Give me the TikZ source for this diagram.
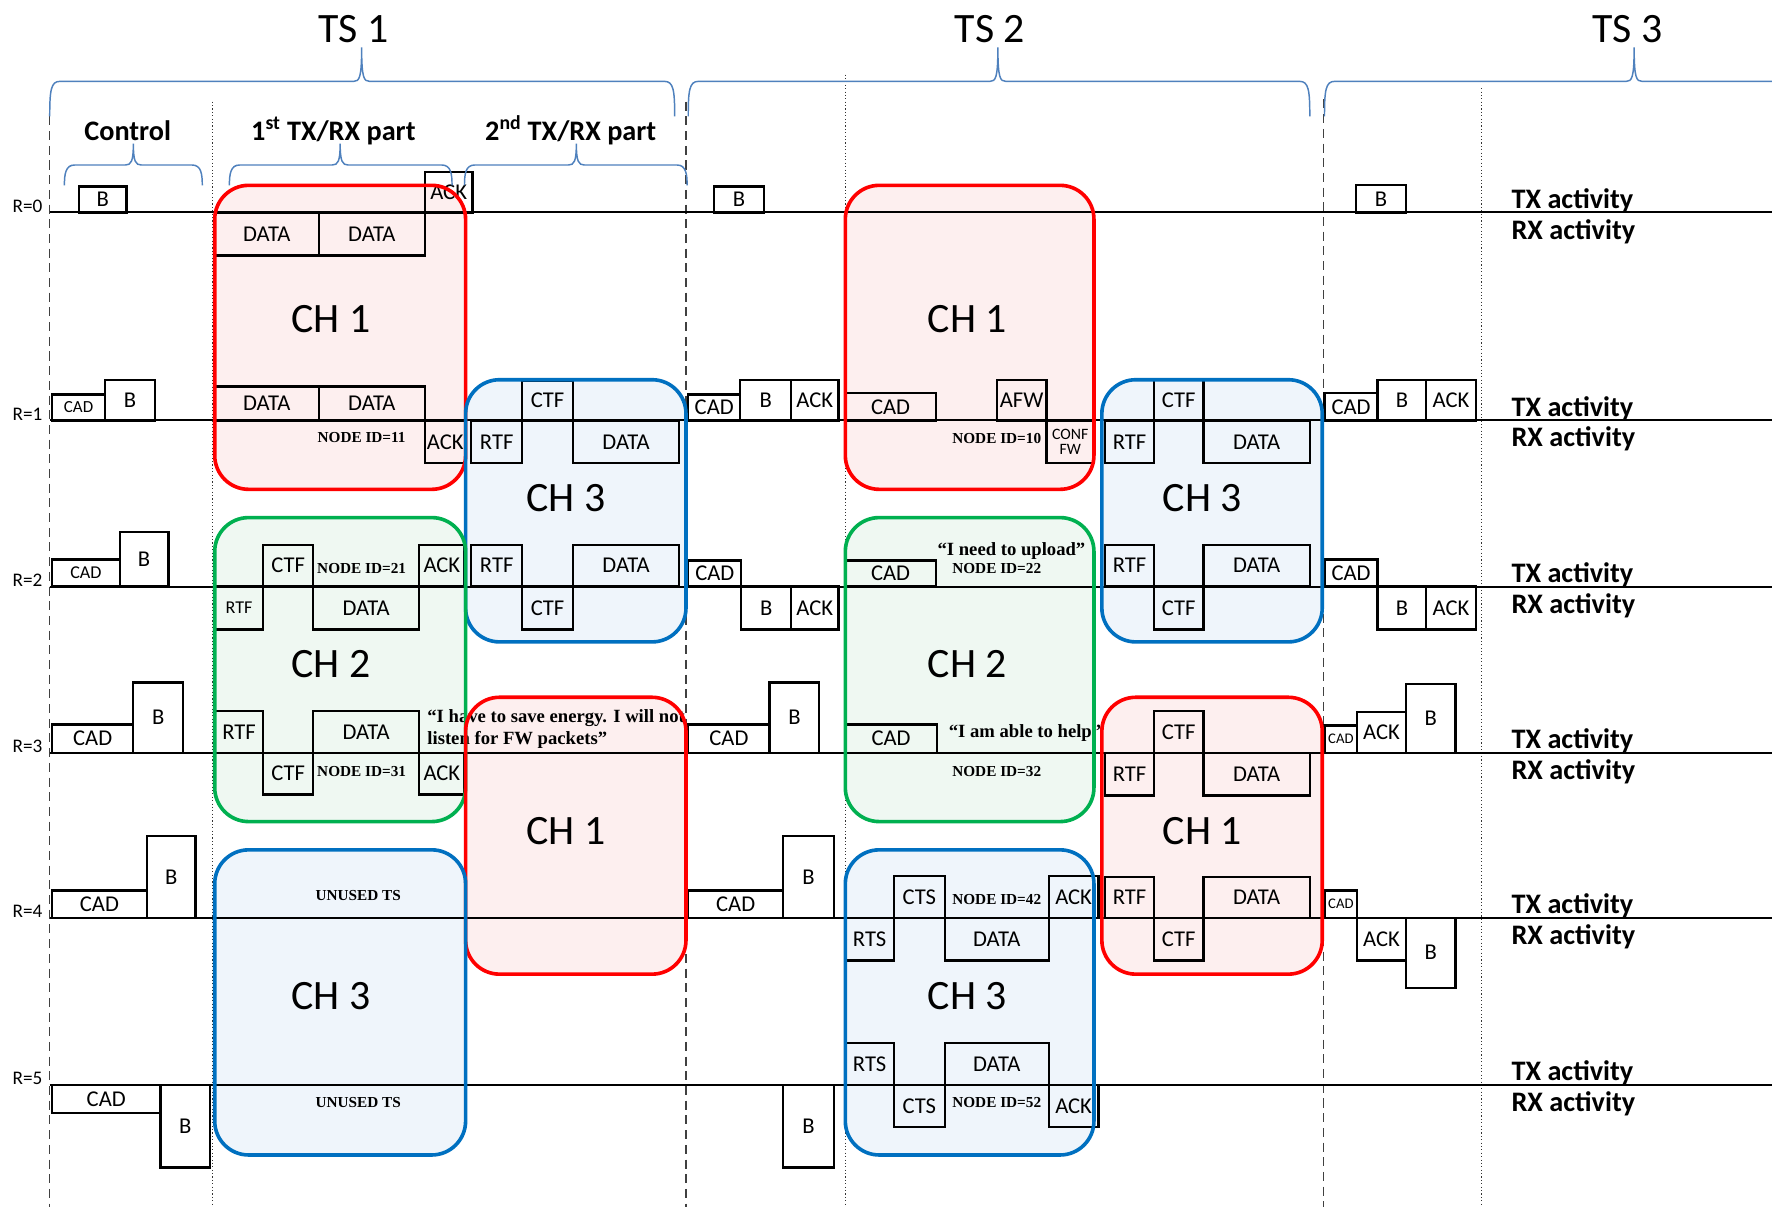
\documentclass[tikz,border=0pt]{standalone}
\usepackage{fontspec}
\setmainfont{Carlito}
\newfontfamily\tnr{Liberation Serif}
\newcommand\myfs[1]{\fontsize{#1}{#1}\selectfont}
\definecolor{bracec}{RGB}{79,129,189}
\definecolor{chred}{RGB}{255,0,0}
\definecolor{chredfill}{RGB}{253,239,239}
\definecolor{chgreen}{RGB}{0,176,80}
\definecolor{chgreenfill}{RGB}{239,248,242}
\definecolor{chblue}{RGB}{0,112,192}
\definecolor{chbluefill}{RGB}{239,245,251}
\newcommand\pk[7]{%
  \pgfmathsetmacro\pkw{#4-#2}%
  \pgfmathsetmacro\pkh{#5-#3}%
  \pgfmathsetmacro\pkx{(#2+#4)/2}%
  \pgfmathsetmacro\pky{(#3+#5)/2}%
  \node[pkt,minimum width=\pkw pt,minimum height=\pkh pt,font=\myfs{#6}] (#1) at (\pkx,\pky) {#7};}
\newcommand\chb[6]{%
  \pgfmathsetmacro\pkw{#4-#2}%
  \pgfmathsetmacro\pkh{#5-#3}%
  \pgfmathsetmacro\pkx{(#2+#4)/2}%
  \pgfmathsetmacro\pky{(#3+#5)/2}%
  \node[chf,fill=#6fill,minimum width=\pkw pt,minimum height=\pkh pt] (#1) at (\pkx,\pky) {};}
\newcommand\chs[2]{\draw[chstroke,#2] (#1.north west) rectangle (#1.south east);}
\newcommand\brc[6]{\draw[brace] (#1,#6) .. controls (#1,#4+8) and (#1+1,#4) .. (#1+9,#4) -- (#3-7,#4) .. controls (#3-2,#4) and (#3,#4-3) .. (#3,#5) .. controls (#3,#4-3) and (#3+2,#4) .. (#3+7,#4) -- (#2-9,#4) .. controls (#2-1,#4) and (#2,#4+8) .. (#2,#6);}
\begin{document}
\begin{tikzpicture}[x=1pt,y=-1pt,
  pkt/.style={draw=black,line width=2pt,inner sep=0pt,outer sep=0pt,align=center},
  chf/.style={inner sep=0pt,outer sep=0pt,rounded corners=30pt},
  chstroke/.style={line width=3.2pt,rounded corners=30pt},
  axisline/.style={line width=1.8pt},
  tsdash/.style={line width=1.2pt,dash pattern=on 8pt off 5pt,black!75},
  tsdot/.style={line width=1pt,dotted,black!80},
  brace/.style={line width=1.3pt,bracec},
  chlab/.style={font=\myfs{37}},
  nid/.style={font=\tnr\bfseries\myfs{13.5}},
  quo/.style={font=\tnr\bfseries\myfs{16.5}},
  rlab/.style={anchor=base east,font=\myfs{17}},
  act/.style={anchor=base west,font=\bfseries\myfs{25}},
  part/.style={anchor=base,font=\bfseries\myfs{25}},
  tslab/.style={anchor=base,font=\myfs{37}}]
\useasboundingbox[fill=white] (0,0) rectangle (1568,1068);
% channel fills
\chb{c1a}{190}{164}{412}{433}{chred}
\chb{c3a}{412}{336}{607}{568}{chblue}
\chb{c2a}{190}{458}{412}{727}{chgreen}
\chb{c1b}{412}{617}{607}{862}{chred}
\chb{c3b}{190}{752}{412}{1022}{chblue}
\chb{c1c}{748}{164}{968}{433}{chred}
\chb{c3c}{975}{336}{1170}{568}{chblue}
\chb{c2b}{748}{458}{968}{727}{chgreen}
\chb{c1d}{975}{617}{1170}{862}{chred}
\chb{c3d}{748}{752}{968}{1022}{chblue}
% vertical separators
\draw[tsdash] (44,90) -- (44,1068);
\draw[tsdash] (607,90) -- (607,1068);
\draw[tsdash] (1171,88) -- (1171,1068);
\draw[tsdot] (188,90) -- (188,1068);
\draw[tsdot] (748,66) -- (748,1068);
\draw[tsdot] (1311,78) -- (1311,1068);
% axis lines
\foreach \yy in {188,372,519,666,812,960}{\draw[axisline] (44,\yy) -- (1568,\yy);}
% labels R
\node[rlab] (r0) at (41,188) {R=0};
\node[rlab] (r1) at (41,372) {R=1};
\node[rlab] (r2) at (41,519) {R=2};
\node[rlab] (r3) at (41,666) {R=3};
\node[rlab] (r4) at (41,812) {R=4};
\node[rlab] (r5) at (41,960) {R=5};
% TX RX labels
\foreach \yy/\nn in {188/0,372/1,519/2,666/3,812/4,960/5}{
  \node[act] (tx\nn) at (1334,\yy-3.5) {TX activity};
  \node[act] (rx\nn) at (1334,\yy+23.5) {RX activity};}
% control packets TS1
\pk{b0a}{70}{165}{112}{188}{20}{B}
\pk{cad1a}{46}{349}{93}{372}{15}{CAD}
\pk{b1a}{93}{336}{137}{372}{20}{B}
\pk{cad2a}{46}{495}{106}{519}{16}{CAD}
\pk{b2a}{106}{471}{149}{519}{20}{B}
\pk{cad3a}{46}{641}{118}{666}{20}{CAD}
\pk{b3a}{118}{604}{162}{666}{20}{B}
\pk{cad4a}{46}{788}{130}{812}{20}{CAD}
\pk{b4a}{130}{740}{173}{812}{20}{B}
\pk{cad5a}{46}{960}{142}{985}{20}{CAD}
\pk{b5a}{142}{960}{186}{1033}{20}{B}
% TS1 first part
\pk{d0a}{190}{188}{282}{226}{20}{DATA}
\pk{d0b}{282}{188}{376}{226}{20}{DATA}
\pk{ack0a}{376}{152}{418}{188}{20}{ACK}
\pk{d1a}{190}{342}{282}{372}{20}{DATA}
\pk{d1b}{282}{342}{376}{372}{20}{DATA}
\pk{ack1a}{376}{372}{412}{410}{20}{ACK}
\pk{rtf2a}{190}{519}{233}{557}{16}{RTF}
\pk{ctf2a}{233}{482}{277}{519}{20}{CTF}
\pk{d2a}{277}{519}{371}{557}{20}{DATA}
\pk{ack2a}{371}{482}{411}{519}{20}{ACK}
\pk{rtf3a}{190}{629}{233}{666}{20}{RTF}
\pk{ctf3a}{233}{666}{277}{703}{20}{CTF}
\pk{d3a}{277}{629}{371}{666}{20}{DATA}
\pk{ack3a}{371}{666}{411}{703}{20}{ACK}
% TS1 second part
\pk{rtf1b}{417}{372}{462}{410}{20}{RTF}
\pk{ctf1b}{462}{337}{507}{372}{20}{CTF}
\pk{d1c}{507}{372}{601}{410}{20}{DATA}
\pk{rtf2b}{417}{482}{462}{519}{20}{RTF}
\pk{ctf2b}{462}{519}{507}{557}{20}{CTF}
\pk{d2b}{507}{482}{601}{519}{20}{DATA}
% TS2 control
\pk{b0b}{632}{165}{676}{188}{20}{B}
\pk{cad1b}{609}{349}{655}{372}{20}{CAD}
\pk{b1b}{655}{336}{700}{372}{20}{B}
\pk{ack1b}{700}{336}{742}{372}{20}{ACK}
\pk{cad2b}{609}{496}{656}{519}{20}{CAD}
\pk{b2b}{656}{519}{700}{557}{20}{B}
\pk{ack2b}{700}{519}{742}{557}{20}{ACK}
\pk{cad3b}{609}{641}{681}{666}{20}{CAD}
\pk{b3b}{681}{604}{725}{666}{20}{B}
\pk{cad4b}{609}{788}{693}{812}{20}{CAD}
\pk{b4b}{693}{740}{738}{812}{20}{B}
\pk{b5b}{693}{960}{738}{1033}{20}{B}
% TS2 first part
\pk{cad1c}{748}{348}{828}{372}{20}{CAD}
\pk{afw1}{882}{336}{926}{372}{20}{AFW}
\pk{conf1}{926}{372}{968}{410}{14}{CONF\\FW}
\pk{cad2c}{748}{496}{828}{519}{20}{CAD}
\pk{cad3c}{748}{641}{829}{666}{20}{CAD}
\pk{rts4}{748}{812}{791}{850}{20}{RTS}
\pk{cts4}{791}{775}{836}{812}{20}{CTS}
\pk{d4c}{836}{812}{928}{850}{20}{DATA}
\pk{ack4c}{928}{775}{972}{812}{20}{ACK}
\pk{rts5}{748}{923}{791}{960}{20}{RTS}
\pk{cts5}{791}{960}{836}{997}{20}{CTS}
\pk{d5c}{836}{923}{928}{960}{20}{DATA}
\pk{ack5c}{928}{960}{972}{997}{20}{ACK}
% TS2 second part
\pk{rtf1d}{978}{372}{1021}{410}{20}{RTF}
\pk{ctf1d}{1021}{336}{1065}{372}{20}{CTF}
\pk{d1d}{1065}{372}{1159}{410}{20}{DATA}
\pk{rtf2d}{978}{482}{1021}{519}{20}{RTF}
\pk{ctf2d}{1021}{519}{1065}{557}{20}{CTF}
\pk{d2d}{1065}{482}{1159}{519}{20}{DATA}
\pk{ctf3d}{1021}{629}{1065}{666}{20}{CTF}
\pk{rtf3d}{978}{666}{1021}{704}{20}{RTF}
\pk{d3d}{1065}{666}{1159}{704}{20}{DATA}
\pk{rtf4d}{978}{776}{1021}{812}{20}{RTF}
\pk{d4d}{1065}{776}{1159}{812}{20}{DATA}
\pk{ctf4d}{1021}{812}{1065}{850}{20}{CTF}
% TS3 control
\pk{b0c}{1200}{164}{1244}{188}{20}{B}
\pk{cad1d}{1172}{348}{1219}{372}{20}{CAD}
\pk{b1d}{1219}{336}{1262}{372}{20}{B}
\pk{ack1d}{1262}{336}{1306}{372}{20}{ACK}
\pk{cad2d}{1172}{495}{1219}{519}{20}{CAD}
\pk{b2d}{1219}{519}{1262}{557}{20}{B}
\pk{ack2d}{1262}{519}{1306}{557}{20}{ACK}
\pk{cad3d}{1172}{642}{1201}{666}{13}{CAD}
\pk{ack3d}{1201}{630}{1244}{666}{20}{ACK}
\pk{b3d}{1244}{605}{1288}{666}{20}{B}
\pk{cad4d}{1172}{788}{1201}{812}{13}{CAD}
\pk{ack4d}{1201}{812}{1244}{850}{20}{ACK}
\pk{b4d}{1244}{812}{1288}{874}{20}{B}
% texts
\node[nid] (n11) at (320,387) {NODE ID=11};
\node[nid] (n21) at (320,503) {NODE ID=21};
\node[nid] (n31) at (320,683) {NODE ID=31};
\node[nid] (n10) at (882,388) {NODE ID=10};
\node[nid] (n22) at (882,503) {NODE ID=22};
\node[nid] (n32) at (882,683) {NODE ID=32};
\node[nid] (n42) at (882,796) {NODE ID=42};
\node[nid] (n52) at (882,976) {NODE ID=52};
\node[nid] (un1) at (317,792) {UNUSED TS};
\node[nid] (un2) at (317,976) {UNUSED TS};
\node[quo,anchor=west,inner sep=0pt] (q1a) at (378,635) {“I have to save energy. I will not};
\node[quo,anchor=west,inner sep=0pt] (q1b) at (378,655) {listen for FW packets”};
\node[quo] (q2) at (895,488) {“I need to upload”};
\node[quo] (q3) at (907,649) {“I am able to help”};
% channel labels
\node[chlab] (l1a) at (293,282) {CH 1};
\node[chlab] (l3a) at (501,441) {CH 3};
\node[chlab] (l2a) at (293,588) {CH 2};
\node[chlab] (l1b) at (501,735) {CH 1};
\node[chlab] (l3b) at (293,881) {CH 3};
\node[chlab] (l1c) at (856,282) {CH 1};
\node[chlab] (l3c) at (1064,441) {CH 3};
\node[chlab] (l2b) at (856,588) {CH 2};
\node[chlab] (l1d) at (1064,735) {CH 1};
\node[chlab] (l3d) at (856,881) {CH 3};
% channel strokes
\chs{c1a}{chred}\chs{c3a}{chblue}\chs{c2a}{chgreen}\chs{c1b}{chred}\chs{c3b}{chblue}
\chs{c1c}{chred}\chs{c3c}{chblue}\chs{c2b}{chgreen}\chs{c1d}{chred}\chs{c3d}{chblue}
% braces
\brc{44}{597}{320}{72}{42}{103}
\brc{609}{1159}{883}{72}{42}{103}
\draw[brace] (1172,103) .. controls (1172,80) and (1173,72) .. (1181,72) -- (1439,72) .. controls (1444,72) and (1446,69) .. (1446,42) .. controls (1446,69) and (1448,72) .. (1453,72) -- (1568,72);
\brc{57}{179}{118}{146}{127}{164}
\brc{203}{400}{301}{146}{127}{164}
\brc{411}{608}{510}{146}{127}{164}
\node[tslab] (ts1) at (313,38) {TS 1};
\node[tslab] (ts2) at (876,38) {TS 2};
\node[tslab] (ts3) at (1440,38) {TS 3};
\node[part] (pc) at (113,124) {Control};
\node[part] (p1) at (295,124) {1\textsuperscript{st} TX/RX part};
\node[part] (p2) at (505,124) {2\textsuperscript{nd} TX/RX part};
\end{tikzpicture}
\end{document}
